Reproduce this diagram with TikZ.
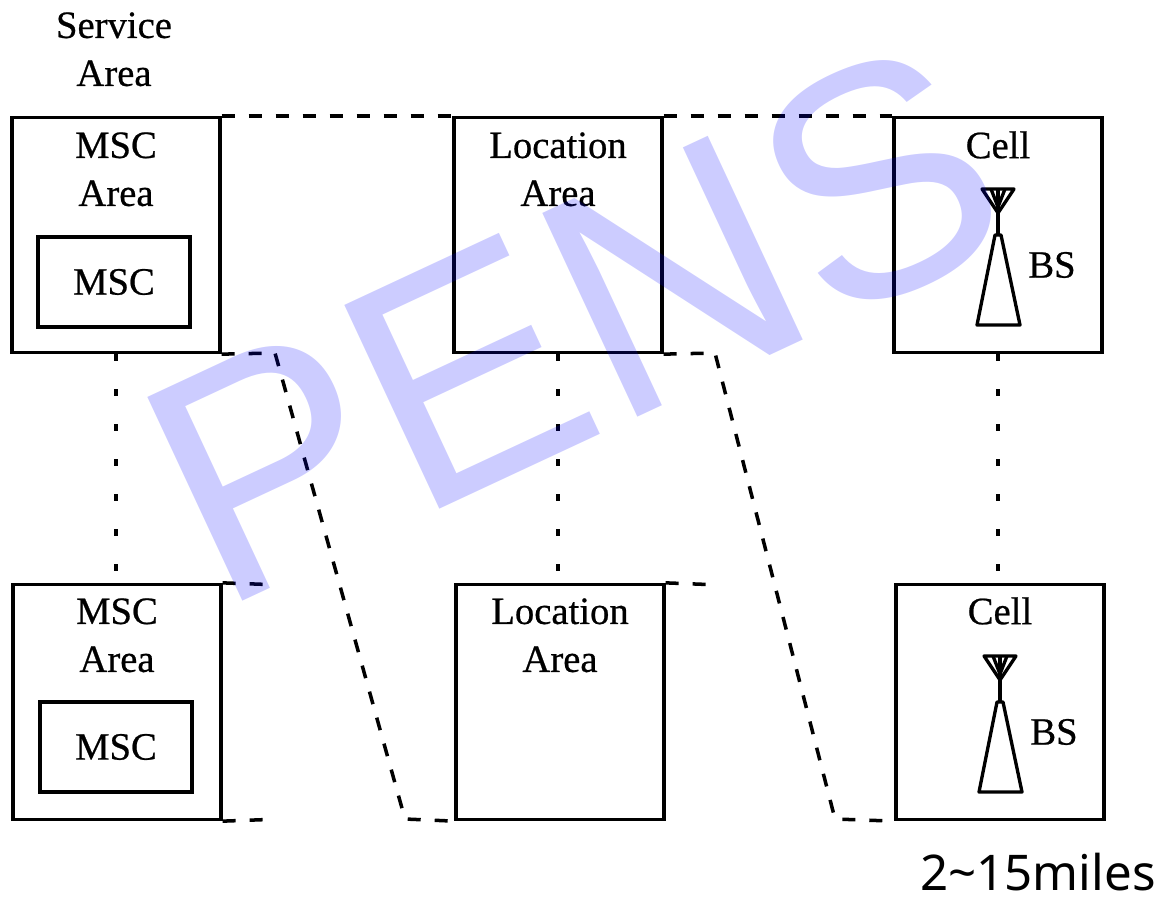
\documentclass[tikz,border=0pt]{standalone}
\usepackage{fontspec}
\setmainfont{Liberation Serif}[FakeBold=0.6]
\newfontfamily\milesfont{Noto Sans}
\newfontfamily\markfont{Liberation Sans}
\usetikzlibrary{calc}
\tikzset{>=latex}

\begin{document}
\begin{tikzpicture}[x=0.02cm,y=-0.02cm,
    area/.style={draw, line width=1.9pt, minimum width=4.16cm, minimum height=4.7cm, inner sep=0pt},
    mscbox/.style={draw, line width=1.9pt, minimum width=3.04cm, minimum height=1.8cm, inner sep=0pt, font=\fontsize{22}{27}\selectfont},
    lbl/.style={anchor=north, inner sep=0pt, align=center, font=\fontsize{22}{27.3}\selectfont},
    link/.style={line width=2pt, dash pattern=on 0.26cm off 0.28cm},
    chain/.style={line width=2.4pt, dash pattern=on 0.13cm off 0.57cm}]
    \useasboundingbox (0,0) rectangle (1163,899);

    \node[lbl] (service) at (114,12) {Service\\Area};

    % top row
    \node[area] (msc1) at (116,235) {};
    \node[area] (loc1) at (558,235) {};
    \node[area] (cell1) at (998,235) {};
    \node[lbl] (msc1lbl) at (116,132) {MSC\\Area};
    \node[lbl] (loc1lbl) at (558,132) {Location\\Area};
    \node[lbl] (cell1lbl) at (998,131) {Cell};
    \node[mscbox] (mscin1) at (114,282) {MSC};

    % bottom row
    \node[area] (msc2) at (117,702) {};
    \node[area] (loc2) at (560,702) {};
    \node[area] (cell2) at (1000,702) {};
    \node[lbl] (msc2lbl) at (117,598) {MSC\\Area};
    \node[lbl] (loc2lbl) at (560,598) {Location\\Area};
    \node[lbl] (cell2lbl) at (1000,597) {Cell};
    \node[mscbox] (mscin2) at (116,747) {MSC};

    % base stations
    \foreach \c/\n in {cell1/bs1,cell2/bs2}{
      \begin{scope}[shift={(\c.center)}, line width=1.9pt, line join=round]
        \draw (-16,-46) -- (16,-46) -- (0,-22) -- cycle;
        \draw (-7,-46) -- (0,-28) -- (7,-46);
        \draw (0,-46) -- (0,0);
        \draw (-3,0) -- (3,0) -- (22,90) -- (-21,90) -- cycle;
        \node[inner sep=0pt, font=\fontsize{22}{27}\selectfont] (\n) at (54,30) {BS};
      \end{scope}
    }

    % dashed borders
    \draw[link] (msc1.north east) -- (loc1.north west);
    \draw[link] (loc1.north east) -- (cell1.north west);
    \coordinate (bendA) at (275,353);
    \coordinate (footA) at (405,819);
    \coordinate (bendB) at (715,353);
    \coordinate (footB) at (835,819);
    \draw[link] (msc1.south east) -- (bendA) -- (footA) -- (loc2.south west);
    \draw[link] (loc1.south east) -- (bendB) -- (footB) -- (cell2.south west);
    \coordinate (endA) at (268,584.5);
    \coordinate (endB) at (268,819.5);
    \coordinate (endC) at (708,584.5);
    \draw[link] (msc2.north east) -- (endA);
    \draw[link] (msc2.south east) -- (endB);
    \draw[link] (loc2.north east) -- (endC);

    % dotted columns
    \draw[chain] (msc1.south) -- (msc1.south |- msc2.north);
    \draw[chain] (loc1.south) -- (loc1.south |- loc2.north);
    \draw[chain] (cell1.south) -- (cell1.south |- cell2.north);

    \node[anchor=base, inner sep=0pt, font=\milesfont\fontsize{28}{32}\selectfont] (miles) at (1038,890) {2\textasciitilde 15miles};

    % watermark
    \node[anchor=base west, inner sep=0pt, rotate=25, text=blue, text opacity=0.2,
      font=\markfont\fontsize{186}{190}\selectfont] (mark) at (218,613) {PENS};
\end{tikzpicture}
\end{document}
